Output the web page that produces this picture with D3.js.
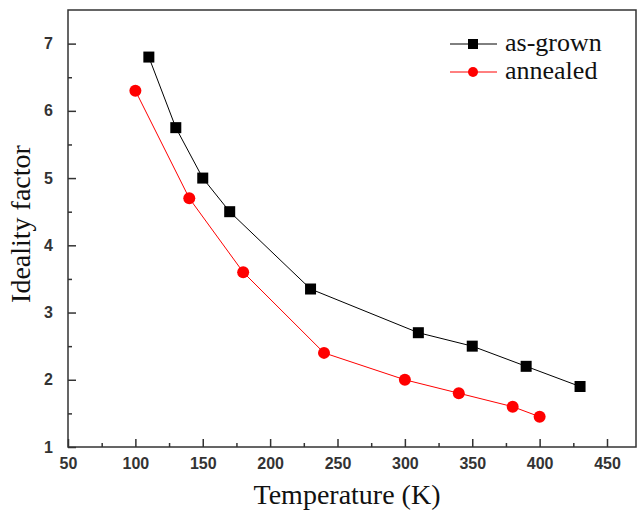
<!DOCTYPE html>
<html>
<head>
<meta charset="utf-8">
<script src="https://cdn.jsdelivr.net/npm/d3@7"></script>
<style>
  body { margin: 0; background: #fff; }
  .tick text { font-family: "Liberation Sans", Arial, sans-serif; font-weight: bold; font-size: 16px; fill: #333; }
</style>
</head>
<body>
<div id="chart"></div>
<script>
// data
var asGrownT = [110, 130, 150, 170, 230, 310, 350, 390, 430];
var asGrownN = [6.8, 5.75, 5.0, 4.5, 3.35, 2.7, 2.5, 2.2, 1.9];
var annealedT = [100, 140, 180, 240, 300, 340, 380, 400];
var annealedN = [6.3, 4.7, 3.6, 2.4, 2.0, 1.8, 1.6, 1.45];
var xTicks = [50, 100, 150, 200, 250, 300, 350, 400, 450];
var yTicks = [1, 2, 3, 4, 5, 6, 7];

var svgWidth = 637;
var svgHeight = 514;
var margin = { top: 10, right: 1, bottom: 67, left: 68 };
var width = svgWidth - margin.left - margin.right;
var height = svgHeight - margin.top - margin.bottom;

var svg = d3.select("#chart")
  .append("svg")
  .attr("width", svgWidth)
  .attr("height", svgHeight);

var chartGroup = svg.append("g")
  .attr("transform", `translate(${margin.left}, ${margin.top})`);

var xScale = d3.scaleLinear()
  .domain([50, 50 + width / 1.3475])
  .range([0, width]);

var yScale = d3.scaleLinear()
  .domain([1, 7.5])
  .range([height, 0]);

// minor ticks
var xMinor = d3.range(75, 475, 50);
var yMinor = d3.range(1.5, 7.5, 1);

chartGroup.append("g")
  .attr("transform", `translate(0, ${height})`)
  .call(d3.axisBottom(xScale).tickValues(xMinor).tickSize(-4).tickFormat(""))
  .call(g => g.select(".domain").remove())
  .selectAll("line").attr("stroke", "#333").attr("stroke-width", 1.5);

chartGroup.append("g")
  .call(d3.axisLeft(yScale).tickValues(yMinor).tickSize(-4).tickFormat(""))
  .call(g => g.select(".domain").remove())
  .selectAll("line").attr("stroke", "#333").attr("stroke-width", 1.5);

// major axes
var xAxis = chartGroup.append("g")
  .attr("transform", `translate(0, ${height})`)
  .call(d3.axisBottom(xScale).tickValues(xTicks).tickSize(-8).tickPadding(11).tickFormat(d3.format("d")));
xAxis.select(".domain").remove();
xAxis.selectAll("line").attr("stroke", "#333").attr("stroke-width", 1.5);

var yAxis = chartGroup.append("g")
  .call(d3.axisLeft(yScale).tickValues(yTicks).tickSize(-8).tickPadding(15).tickFormat(d3.format("d")));
yAxis.select(".domain").remove();
yAxis.selectAll("line").attr("stroke", "#333").attr("stroke-width", 1.5);

// frame
chartGroup.append("rect")
  .attr("x", 0)
  .attr("y", 0)
  .attr("width", width)
  .attr("height", height)
  .attr("fill", "none")
  .attr("stroke", "#333")
  .attr("stroke-width", 1.5);

// lines
var line = d3.line()
  .x(d => xScale(d[0]))
  .y(d => yScale(d[1]));

var asGrown = asGrownT.map((t, i) => [t, asGrownN[i]]);
var annealed = annealedT.map((t, i) => [t, annealedN[i]]);

chartGroup.append("path")
  .datum(asGrown)
  .attr("d", line)
  .attr("fill", "none")
  .attr("stroke", "#000")
  .attr("stroke-width", 1);

chartGroup.append("path")
  .datum(annealed)
  .attr("d", line)
  .attr("fill", "none")
  .attr("stroke", "#ff0000")
  .attr("stroke-width", 1);

chartGroup.selectAll(".sq")
  .data(asGrown)
  .enter()
  .append("rect")
  .attr("class", "sq")
  .attr("x", d => xScale(d[0]) - 5.5)
  .attr("y", d => yScale(d[1]) - 5.5)
  .attr("width", 11)
  .attr("height", 11)
  .attr("fill", "#000");

chartGroup.selectAll(".dot")
  .data(annealed)
  .enter()
  .append("circle")
  .attr("class", "dot")
  .attr("cx", d => xScale(d[0]))
  .attr("cy", d => yScale(d[1]))
  .attr("r", 6)
  .attr("fill", "#ff0000");

// axis titles
svg.append("text")
  .attr("x", 347)
  .attr("y", 504)
  .attr("text-anchor", "middle")
  .attr("font-family", "Liberation Serif, Times New Roman, serif")
  .attr("font-size", "28px")
  .attr("fill", "#111")
  .text("Temperature (K)");

svg.append("text")
  .attr("transform", "translate(30, 224) rotate(-90)")
  .attr("text-anchor", "middle")
  .attr("font-family", "Liberation Serif, Times New Roman, serif")
  .attr("font-size", "28px")
  .attr("fill", "#111")
  .text("Ideality factor");

// legend
var legend = svg.append("g");
var legendItems = [
  { name: "as-grown", color: "#000", shape: "square", y: 44 },
  { name: "annealed", color: "#ff0000", shape: "circle", y: 72 }
];
legendItems.forEach(function(item) {
  legend.append("line")
    .attr("x1", 450).attr("x2", 497)
    .attr("y1", item.y).attr("y2", item.y)
    .attr("stroke", item.color)
    .attr("stroke-width", 1);
  if (item.shape === "square") {
    legend.append("rect")
      .attr("x", 468).attr("y", item.y - 5)
      .attr("width", 10).attr("height", 10)
      .attr("fill", item.color);
  } else {
    legend.append("circle")
      .attr("cx", 473).attr("cy", item.y)
      .attr("r", 5)
      .attr("fill", item.color);
  }
  legend.append("text")
    .attr("x", 505)
    .attr("y", item.y + 7)
    .attr("font-family", "Liberation Serif, Times New Roman, serif")
    .attr("font-size", "26px")
    .attr("fill", "#111")
    .text(item.name);
});
</script>
</body>
</html>
